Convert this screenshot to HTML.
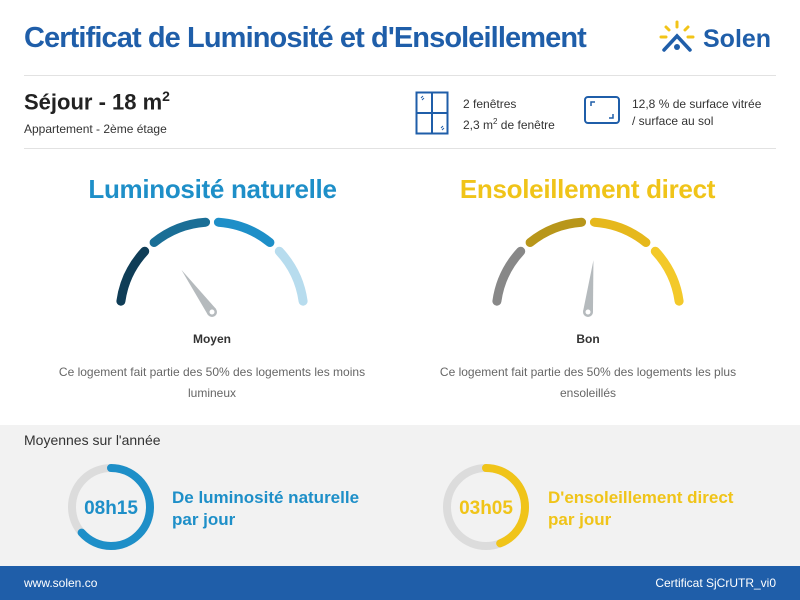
<!DOCTYPE html>
<html><head><meta charset="utf-8">
<style>
body{margin:0;width:800px;height:600px;overflow:hidden;background:#fff;font-family:"Liberation Sans",sans-serif;position:relative}
.a{position:absolute;white-space:nowrap}
</style></head><body>
<div class="a" style="left:24px;top:22px;font-size:29px;font-weight:bold;color:#1f5ea9;letter-spacing:-0.9px">Certificat de Luminosité et d'Ensoleillement</div>
<svg class="a" style="left:658px;top:20px" width="40" height="34" viewBox="0 0 40 34">
<g stroke="#f2c418" stroke-width="3" stroke-linecap="round"><line x1="19" y1="2" x2="19" y2="7"/><line x1="8" y1="7" x2="11" y2="10"/><line x1="30" y1="7" x2="27" y2="10"/><line x1="3" y1="17" x2="8" y2="17"/><line x1="35" y1="17" x2="30" y2="17"/></g>
<polyline points="6,30 19,16 32,30" fill="none" stroke="#1f5ea9" stroke-width="3.5" stroke-linecap="round"/>
<circle cx="19" cy="27" r="3" fill="#1f5ea9"/></svg>
<div class="a" style="left:703px;top:25px;font-size:25px;font-weight:bold;color:#1f5ea9">Solen</div>
<div class="a" style="left:24px;top:75px;width:752px;height:1px;background:#e2e2e2"></div>
<div class="a" style="left:24px;top:88px;font-size:22px;font-weight:bold;color:#222">Séjour - 18 m<sup style="font-size:14px">2</sup></div>
<div class="a" style="left:24px;top:122px;font-size:12px;color:#333">Appartement - 2ème étage</div>
<svg class="a" style="left:415px;top:91px" width="34" height="44"><rect x="1.5" y="1.5" width="31" height="41" fill="none" stroke="#1f5ea9" stroke-width="2"/><line x1="17" y1="1" x2="17" y2="43" stroke="#1f5ea9" stroke-width="2"/><line x1="1" y1="22" x2="33" y2="22" stroke="#1f5ea9" stroke-width="2"/><path d="M6 7l2-2M7 9l2-2M26 37l2-2M27 39l2-2" stroke="#1f5ea9" stroke-width="1"/></svg>
<div class="a" style="left:463px;top:96px;font-size:12px;line-height:17px;color:#333">2 fenêtres<br>2,3 m<sup style="font-size:8px">2</sup> de fenêtre</div>
<svg class="a" style="left:584px;top:96px" width="36" height="28"><rect x="1" y="1" width="34" height="26" rx="3" fill="none" stroke="#1f5ea9" stroke-width="2"/><path d="M7 10V6h4M29 18v4h-4" fill="none" stroke="#1f5ea9" stroke-width="1.5"/></svg>
<div class="a" style="left:632px;top:96px;font-size:12px;line-height:17px;color:#333">12,8 % de surface vitrée<br>/ surface au sol</div>
<div class="a" style="left:24px;top:148px;width:752px;height:1px;background:#e2e2e2"></div>

<div class="a" style="left:0;width:425px;text-align:center;top:174px;font-size:26px;font-weight:bold;color:#1e8fc8;letter-spacing:-0.3px">Luminosité naturelle</div>
<div class="a" style="left:375px;width:425px;text-align:center;top:174px;font-size:26px;font-weight:bold;color:#f0c419;letter-spacing:-0.3px">Ensoleillement direct</div>
<svg class="a" id="g" style="left:0;top:0" width="800" height="425"></svg>
<div class="a" style="left:112px;width:200px;text-align:center;top:332px;font-size:12px;font-weight:bold;color:#333">Moyen</div>
<div class="a" style="left:488px;width:200px;text-align:center;top:332px;font-size:12px;font-weight:bold;color:#333">Bon</div>
<div class="a" style="left:40px;width:344px;white-space:normal;text-align:center;top:362px;font-size:12px;line-height:21px;color:#666">Ce logement fait partie des 50% des logements les moins lumineux</div>
<div class="a" style="left:416px;width:344px;white-space:normal;text-align:center;top:362px;font-size:12px;line-height:21px;color:#666">Ce logement fait partie des 50% des logements les plus ensoleillés</div>

<div class="a" style="left:0;top:425px;width:800px;height:141px;background:#f2f2f2"></div>
<div class="a" style="left:24px;top:432px;font-size:14px;color:#333">Moyennes sur l'année</div>
<svg class="a" id="d" style="left:0;top:425px" width="800" height="141"></svg>
<div class="a" style="left:172px;top:487px;font-size:17px;line-height:22px;font-weight:bold;color:#1e8fc8">De luminosité naturelle<br>par jour</div>
<div class="a" style="left:548px;top:487px;font-size:17px;line-height:22px;font-weight:bold;color:#f0c419">D'ensoleillement direct<br>par jour</div>

<div class="a" style="left:0;top:566px;width:800px;height:34px;background:#1f5ea9"></div>
<div class="a" style="left:24px;top:576px;font-size:12px;color:#fff">www.solen.co</div>
<div class="a" style="right:24px;top:576px;font-size:12px;color:#fff">Certificat SjCrUTR_vi0</div>
<script>
const gaugeCenters=[212,588];
const gaugeColors=[["#0f3d57","#1a6e96","#1e8fc8","#b7dcee"],["#888888","#b8961a","#e6b81c","#f3c92a"]];
const needleAngles=[-36,6]; // degrees from vertical
const hourLabels=["08h15","03h05"];
const hourValues=[8.25,3.08];
const hourMax=[13,7];
const donutColors=["#1e8fc8","#f0c419"];
const donutCenters=[111,486];
const NS="http://www.w3.org/2000/svg";
const g=document.getElementById('g'),d=document.getElementById('d');
function mk(p,t,a){const e=document.createElementNS(NS,t);for(const k in a)e.setAttribute(k,a[k]);p.appendChild(e);return e;}
function pt(cx,cy,r,deg){const a=(deg-90)*Math.PI/180;return[cx+r*Math.cos(a),cy+r*Math.sin(a)];}
const cy=314,R=92;
gaugeCenters.forEach((cx,i)=>{
 for(let s=0;s<4;s++){
  const a0=-86+s*43+4,a1=-86+(s+1)*43-4;
  const p0=pt(cx,cy,R,a0),p1=pt(cx,cy,R,a1);
  const seg=mk(g,'path',{d:`M${p0[0]} ${p0[1]}A${R} ${R} 0 0 1 ${p1[0]} ${p1[1]}`,fill:'none',stroke:gaugeColors[i][s],'stroke-width':9,'stroke-linecap':'round'});
  
  
 }
 const t=pt(cx,cy-2,52,needleAngles[i]),l=pt(cx,cy-2,5,needleAngles[i]-90),r=pt(cx,cy-2,5,needleAngles[i]+90);
 const n=mk(g,'path',{d:`M${t[0]} ${t[1]}L${l[0]} ${l[1]}L${r[0]} ${r[1]}Z`,fill:'#b5babd'});
 
 
 mk(g,'circle',{cx:cx,cy:cy-2,r:5,fill:'#b5babd'});
 mk(g,'circle',{cx:cx,cy:cy-2,r:2.5,fill:'#fff'});
});
donutCenters.forEach((cx,i)=>{
 const dy=82,r=39;
 const bg=mk(d,'circle',{cx:cx,cy:dy,r:r,fill:'none',stroke:'#dcdcdc','stroke-width':8});
 
 
 const f=hourValues[i]/hourMax[i],C=2*Math.PI*r;
 const arc=mk(d,'circle',{cx:cx,cy:dy,r:r,fill:'none',stroke:donutColors[i],'stroke-width':8,'stroke-dasharray':`${C*f} ${C}`,transform:`rotate(-90 ${cx} ${dy})`,'stroke-linecap':'round'});
 
 
 const tx=mk(d,'text',{x:cx,y:dy+7,'text-anchor':'middle','font-size':19,'font-weight':'bold',fill:donutColors[i],'font-family':'Liberation Sans, sans-serif'});
 tx.textContent=hourLabels[i];
 
 
});
</script>
</body></html>
